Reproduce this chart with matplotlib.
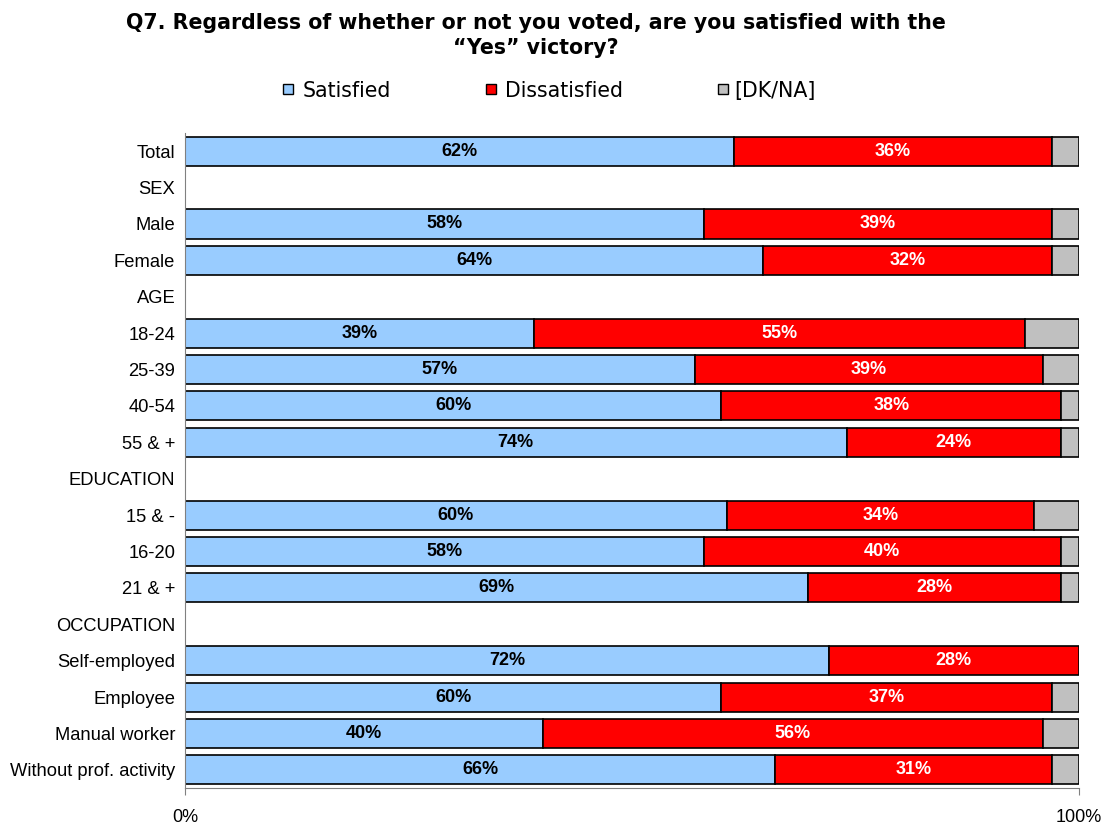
import numpy as np
import matplotlib.pyplot as plt
from matplotlib.patches import Rectangle

# rows, top to bottom (None = section header, no bar)
rows = ["Total", "SEX", "Male", "Female", "AGE", "18-24", "25-39", "40-54", "55 & +",
        "EDUCATION", "15 & -", "16-20", "21 & +", "OCCUPATION", "Self-employed",
        "Employee", "Manual worker", "Without prof. activity"]
satisfied = [62, None, 58, 64, None, 39, 57, 60, 74, None, 60, 58, 69, None, 72, 60, 40, 66]
dissatisfied = [36, None, 39, 32, None, 55, 39, 38, 24, None, 34, 40, 28, None, 28, 37, 56, 31]
dkna = [3, None, 3, 3, None, 6, 4, 2, 2, None, 5, 2, 2, None, 0, 3, 4, 3]
series = ['Satisfied', 'Dissatisfied', '[DK/NA]']

c_sat = '#99CCFF'
c_dis = '#FF0000'
c_dk = '#C0C0C0'

W, H = 1111, 825
fig = plt.figure(figsize=(W / 100, H / 100), dpi=100)
ax = fig.add_axes([0.1665, 0.0448, 0.8047, 0.794])

y = np.arange(len(rows))
for i in range(len(rows)):
    if satisfied[i] is None:
        continue
    tot = satisfied[i] + dissatisfied[i] + dkna[i]
    s = satisfied[i] / tot * 100
    d = dissatisfied[i] / tot * 100
    k = dkna[i] / tot * 100
    ax.barh(y[i], s, height=0.8, color=c_sat, edgecolor='black', linewidth=1.2)
    ax.barh(y[i], d, left=s, height=0.8, color=c_dis, edgecolor='black', linewidth=1.2)
    if k > 0:
        ax.barh(y[i], k, left=s + d, height=0.8, color=c_dk, edgecolor='black', linewidth=1.2)
    ax.text(s / 2, y[i], f"{satisfied[i]}%", ha='center', va='center',
            fontsize=13, fontweight='bold', family='Liberation Sans', color='black')
    ax.text(s + d / 2, y[i], f"{dissatisfied[i]}%", ha='center', va='center',
            fontsize=13, fontweight='bold', family='Liberation Sans', color='white')

ax.set_ylim(len(rows) - 0.5, -0.5)
ax.set_xlim(0, 100)
ax.set_yticks(y)
ax.set_yticklabels(rows, family='Liberation Sans', fontsize=13.2)
ax.tick_params(axis='y', length=0, pad=7)
ax.set_xticks([0, 100])
ax.set_xticklabels(['0%', '100%'], family='Liberation Sans', fontsize=13)
ax.tick_params(axis='x', length=5, color='#808080', pad=10)

for side in ['top', 'right']:
    ax.spines[side].set_visible(False)
ax.spines['bottom'].set_color('#808080')
ax.spines['left'].set_color('#808080')

fig.text(0.4825, 0.984, "Q7. Regardless of whether or not you voted, are you satisfied with the\n\u201cYes\u201d victory?",
         ha='center', va='top', fontsize=14.8, fontweight='bold', family='DejaVu Sans', linespacing=1.3)

# legend placed by hand (pixel positions of the original)
leg_x = [283, 486, 718]
txt_x = [303, 505, 734]
leg_y = 89
for name, c, sx, tx in zip(series, (c_sat, c_dis, c_dk), leg_x, txt_x):
    fig.add_artist(Rectangle((sx / W, (H - leg_y - 5) / H), 10 / W, 10 / H, transform=fig.transFigure,
                             facecolor=c, edgecolor='black', linewidth=1))
    fig.text(tx / W, (H - leg_y) / H, name, ha='left', va='center_baseline',
             fontsize=14.8, family='DejaVu Sans')

fig.savefig('out.png', dpi=100)
